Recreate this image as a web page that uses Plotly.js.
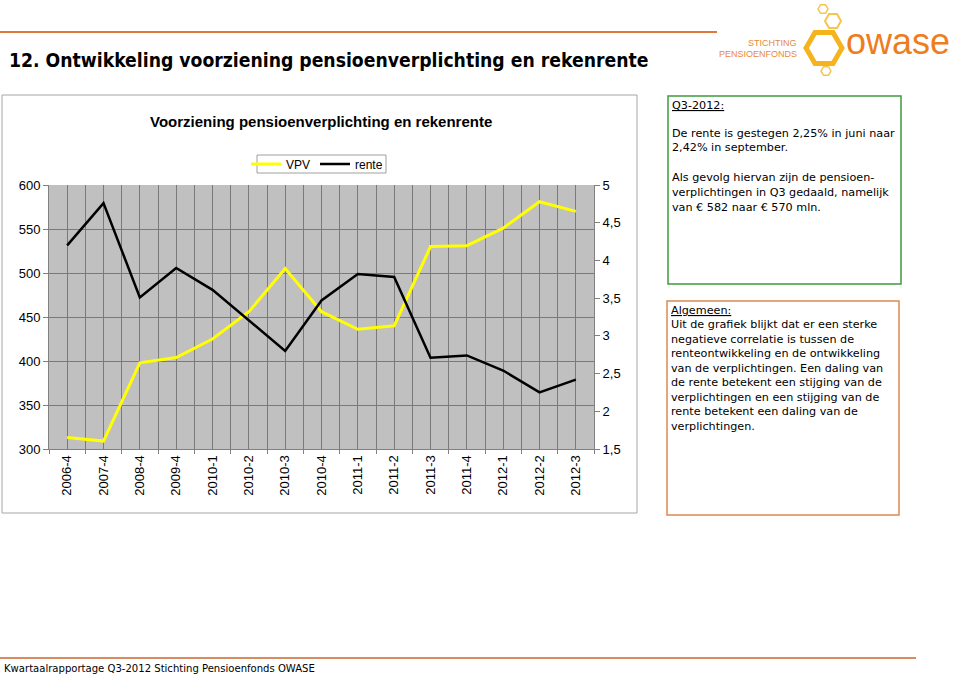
<!DOCTYPE html>
<html>
<head>
<meta charset="utf-8">
<script src="https://cdn.plot.ly/plotly-3.0.1.min.js"></script>
<style>
html,body{margin:0;padding:0;background:#fff;}
#chart{width:960px;height:675px;}
</style>
</head>
<body>
<div id="chart"></div>
<script>
// ---- data ----
const categories = ['2006-4','2007-4','2008-4','2009-4','2010-1','2010-2','2010-3','2010-4','2011-1','2011-2','2011-3','2011-4','2012-1','2012-2','2012-3'];
const vpv   = [313, 309, 398, 404, 425, 456, 505, 456, 436, 440, 530, 531, 551, 581, 570];
const rente = [4.20, 4.76, 3.51, 3.90, 3.61, 3.21, 2.80, 3.47, 3.82, 3.78, 2.71, 2.74, 2.54, 2.25, 2.42];
const seriesNames = ['VPV', 'rente'];
const chartTitle = 'Voorziening pensioenverplichting en rekenrente';
const pageTitle = '12. Ontwikkeling voorziening pensioenverplichting en rekenrente';
const footerText = 'Kwartaalrapportage Q3-2012 Stichting Pensioenfonds OWASE';
const box1Lines = ['De rente is gestegen 2,25% in juni naar', '2,42% in september.', '', 'Als gevolg hiervan zijn de pensioen-', 'verplichtingen in Q3 gedaald, namelijk', 'van € 582 naar € 570 mln.'];
const box1Head = 'Q3-2012:';
const box2Head = 'Algemeen:';
const box2Lines = ['Uit de grafiek blijkt dat er een sterke', 'negatieve correlatie is tussen de', 'renteontwikkeling en de ontwikkeling', 'van de verplichtingen. Een daling van', 'de rente betekent een stijging van de', 'verplichtingen en een stijging van de', 'rente betekent een daling van de', 'verplichtingen.'];

// ---- geometry helpers (pixel -> paper) ----
const M = {l: 49, r: 366, t: 185, b: 226};
const W = 960, H = 675;
const PW = W - M.l - M.r, PH = H - M.t - M.b;
const X = px => (px - M.l) / PW;
const Y = py => (H - M.b - py) / PH;

const arial = 'Liberation Sans, Arial, sans-serif';
const verd = 'DejaVu Sans, Verdana, sans-serif';
const cond = 'DejaVu Sans Condensed, DejaVu Sans, sans-serif';

const traces = [
  {x: categories, y: vpv, name: seriesNames[0], type: 'scatter', mode: 'lines',
   line: {color: '#FFFF00', width: 3}, xaxis: 'x', yaxis: 'y'},
  {x: categories, y: rente, name: seriesNames[1], type: 'scatter', mode: 'lines',
   line: {color: '#000000', width: 2.5}, xaxis: 'x2', yaxis: 'y2'}
];

const annotations = [];
function txt(text, px, py, opts) {
  annotations.push(Object.assign({
    text: text, xref: 'paper', yref: 'paper', x: X(px), y: Y(py),
    xanchor: 'left', yanchor: 'middle', showarrow: false,
    font: {family: verd, size: 11.2, color: '#000'}
  }, opts || {}));
}
// page title
txt('<b>' + pageTitle + '</b>', 7, 60, {font: {family: cond, size: 19.2, color: '#000'}});
// chart title
txt('<b>' + chartTitle + '</b>', 321, 121, {xanchor: 'center', font: {family: arial, size: 15, color: '#000'}});
// box 1
txt('<span style="text-decoration:underline">' + box1Head + '</span>', 670, 105);
box1Lines.forEach((l, i) => { if (l) txt(l, 670, 133 + i * 14.8); });
// box 2
txt('<span style="text-decoration:underline">' + box2Head + '</span>', 669, 310);
box2Lines.forEach((l, i) => txt(l, 669, 324.5 + i * 14.5));
// footer
txt(footerText, 2, 668, {font: {family: cond, size: 11.2, color: '#000'}});
// logo texts
txt('STICHTING', 799, 43, {xanchor: 'right', font: {family: arial, size: 9, color: '#E8893A'}});
txt('PENSIOENFONDS', 799, 54, {xanchor: 'right', font: {family: arial, size: 9, color: '#E8893A'}});
txt('owase', 898, 41, {xanchor: 'center', font: {family: arial, size: 36, color: '#EE7D1C'}});

function hex(cx, cy, r) {
  let p = '';
  for (let k = 0; k < 6; k++) {
    const a = Math.PI / 180 * (60 * k);
    const px = cx + r * Math.cos(a), py = cy + r * Math.sin(a);
    p += (k === 0 ? 'M' : 'L') + X(px).toFixed(5) + ',' + Y(py).toFixed(5);
  }
  return p + 'Z';
}

const shapes = [
  // chart frame
  {type: 'rect', xref: 'paper', yref: 'paper', x0: X(2), x1: X(637), y0: Y(95), y1: Y(513), line: {color: '#A6A6A6', width: 1}, layer: 'below'},
  // legend box
  {type: 'rect', xref: 'paper', yref: 'paper', x0: X(257), x1: X(386), y0: Y(155), y1: Y(173), line: {color: '#A0A0A0', width: 1}, fillcolor: '#FFFFFF', layer: 'above'},
  // green box
  {type: 'rect', xref: 'paper', yref: 'paper', x0: X(668), x1: X(901), y0: Y(96), y1: Y(284), line: {color: '#3E9A3E', width: 1.5}},
  // orange box
  {type: 'rect', xref: 'paper', yref: 'paper', x0: X(667), x1: X(899), y0: Y(301), y1: Y(515), line: {color: '#E0884F', width: 1.5}},
  // header line
  {type: 'line', xref: 'paper', yref: 'paper', x0: X(0), x1: X(717), y0: Y(32), y1: Y(32), line: {color: '#E0773A', width: 2}},
  // footer line
  {type: 'line', xref: 'paper', yref: 'paper', x0: X(0), x1: X(916), y0: Y(658), y1: Y(658), line: {color: '#D98C5F', width: 2}},
  // logo hexagons
  {type: 'path', xref: 'paper', yref: 'paper', path: hex(824, 48, 18), line: {color: '#F5B41E', width: 5}},
  {type: 'path', xref: 'paper', yref: 'paper', path: hex(833, 21, 8), line: {color: '#F5C550', width: 2}},
  {type: 'path', xref: 'paper', yref: 'paper', path: hex(823, 9, 5), line: {color: '#F5C550', width: 1.5}},
  {type: 'path', xref: 'paper', yref: 'paper', path: hex(826, 71, 5), line: {color: '#F5C550', width: 1.5}}
];

const tickFont = {family: arial, size: 13, color: '#000'};
const layout = {
  width: W, height: H,
  margin: M,
  paper_bgcolor: '#FFFFFF',
  plot_bgcolor: '#C0C0C0',
  separators: ', ',
  showlegend: true,
  legend: {orientation: 'h', x: X(317), xanchor: 'center', y: Y(164), yanchor: 'middle',
           bgcolor: 'rgba(0,0,0,0)', borderwidth: 0,
           font: {family: arial, size: 12, color: '#000'}, itemwidth: 30, tracegroupgap: 0},
  xaxis: {type: 'category', categoryorder: 'array', categoryarray: categories, range: [-0.5, 14.5],
          tickson: 'boundaries', showgrid: true, gridcolor: '#7A7A7A', gridwidth: 1,
          ticks: 'outside', ticklen: 4, tickcolor: '#808080', tickangle: -90,
          showline: true, linecolor: '#808080', linewidth: 1,
          tickfont: tickFont, fixedrange: true, zeroline: false},
  xaxis2: {type: 'category', categoryorder: 'array', categoryarray: categories, range: [-0.5, 14.5],
           overlaying: 'x', side: 'bottom', showgrid: true, gridcolor: '#7A7A7A', gridwidth: 1,
           showticklabels: false, ticks: '', showline: false, zeroline: false},
  yaxis: {range: [300, 600], dtick: 50, tick0: 300, showgrid: true, gridcolor: '#7A7A7A', gridwidth: 1,
          ticks: 'outside', ticklen: 5, tickcolor: '#808080', showline: true, linecolor: '#808080',
          zeroline: false, tickfont: tickFont},
  yaxis2: {range: [1.5, 5], dtick: 0.5, tick0: 1.5, overlaying: 'y', side: 'right', showgrid: false,
           ticks: 'outside', ticklen: 5, tickcolor: '#808080', showline: true, linecolor: '#808080',
           zeroline: false, tickfont: tickFont},
  annotations: annotations,
  shapes: shapes
};

Plotly.newPlot('chart', traces, layout, {displayModeBar: false, staticPlot: true});
</script>
</body>
</html>
